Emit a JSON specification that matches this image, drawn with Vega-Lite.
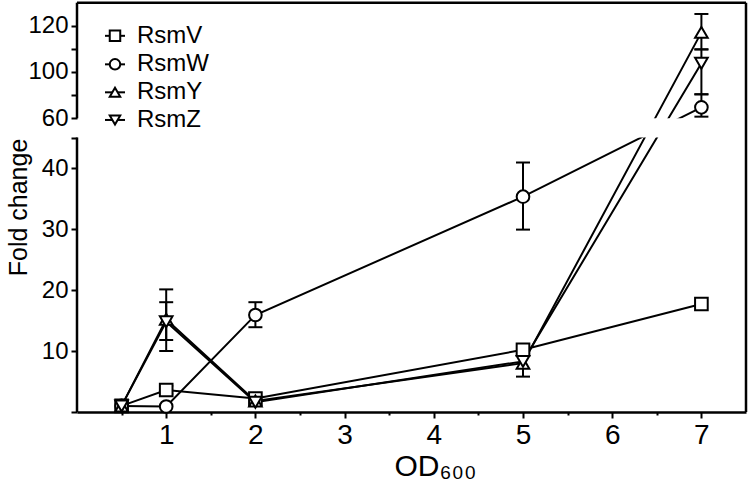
{
  "$schema": "https://vega.github.io/schema/vega-lite/v6.json",
  "width": 669,
  "height": 410,
  "autosize": {"type": "none"},
  "padding": {"left": 77, "top": 2, "right": 4, "bottom": 75},
  "background": "white",
  "config": {
    "view": {"stroke": null},
    "font": "Liberation Sans",
    "axis": {
      "labelColor": "black",
      "titleColor": "black",
      "domainColor": "black",
      "tickColor": "black",
      "labelFont": "Liberation Sans",
      "titleFont": "Liberation Sans",
      "titleFontWeight": "normal",
      "grid": false
    }
  },
  "datasets": {
    "series": [
      {"series": "RsmV", "od": 0.5, "fold": 1.0},
      {"series": "RsmV", "od": 1, "fold": 3.6},
      {"series": "RsmV", "od": 2, "fold": 2.2},
      {"series": "RsmV", "od": 5, "fold": 10.2},
      {"series": "RsmV", "od": 7, "fold": 17.7},
      {"series": "RsmW", "od": 0.5, "fold": 1.0},
      {"series": "RsmW", "od": 1, "fold": 0.9},
      {"series": "RsmW", "od": 2, "fold": 15.9},
      {"series": "RsmW", "od": 5, "fold": 35.3},
      {"series": "RsmW", "od": 7, "fold": 69.4},
      {"series": "RsmY", "od": 0.5, "fold": 1.0},
      {"series": "RsmY", "od": 1, "fold": 15.2},
      {"series": "RsmY", "od": 2, "fold": 1.8},
      {"series": "RsmY", "od": 5, "fold": 8.0},
      {"series": "RsmY", "od": 7, "fold": 117.1},
      {"series": "RsmZ", "od": 0.5, "fold": 1.0},
      {"series": "RsmZ", "od": 1, "fold": 14.8},
      {"series": "RsmZ", "od": 2, "fold": 1.6},
      {"series": "RsmZ", "od": 5, "fold": 8.3},
      {"series": "RsmZ", "od": 7, "fold": 103.7}
    ],
    "errors": [
      {"series": "RsmV", "od": 1, "lo": 3.0, "hi": 4.3},
      {"series": "RsmW", "od": 2, "lo": 13.9, "hi": 18.0},
      {"series": "RsmW", "od": 5, "lo": 29.9, "hi": 40.9},
      {"series": "RsmW", "od": 7, "lo": 61.4, "hi": 80.6},
      {"series": "RsmY", "od": 1, "lo": 10.0, "hi": 20.1},
      {"series": "RsmY", "od": 5, "lo": 5.8, "hi": 10.2},
      {"series": "RsmY", "od": 7, "lo": 109.7, "hi": 125.1},
      {"series": "RsmZ", "od": 1, "lo": 11.8, "hi": 18.0},
      {"series": "RsmZ", "od": 7, "lo": 80.6, "hi": 109.7}
    ],
    "frame": [
      {"x": 0, "x2": 0, "y": 0, "y2": 45},
      {"x": 0, "x2": 0, "y": 60, "y2": 130},
      {"x": 0, "x2": 7.5, "y": 130, "y2": 130},
      {"x": 7.5, "x2": 7.5, "y": 0, "y2": 130}
    ],
    "gap": [
      {"x": 0.02, "x2": 7.45, "y": 45, "y2": 60}
    ],
    "legend": [
      {"series": "RsmV", "lx": 0.426, "ly": 115.6},
      {"series": "RsmW", "lx": 0.426, "ly": 103.2},
      {"series": "RsmY", "lx": 0.426, "ly": 82.3},
      {"series": "RsmZ", "lx": 0.426, "ly": 58.7}
    ]
  },
  "layer": [
    {
      "data": {"name": "series"},
      "mark": {"type": "line", "color": "black", "strokeWidth": 2, "clip": true},
      "encoding": {
        "x": {
          "field": "od",
          "type": "quantitative",
          "scale": {"domain": [0, 7.5], "nice": false, "zero": false},
          "axis": {
            "title": "OD₆₀₀",
            "values": [0.5, 1, 1.5, 2, 2.5, 3, 3.5, 4, 4.5, 5, 5.5, 6, 6.5, 7],
            "labelExpr": "datum.value % 1 == 0 ? format(datum.value, 'd') : ''",
            "tickSize": {"condition": {"test": "datum.value % 1 == 0", "value": 6}, "value": 3},
            "tickWidth": 2,
            "domainWidth": 2.5,
            "labelFontSize": 28,
            "labelPadding": 3,
            "labelFlush": false,
            "labelOverlap": false,
            "titleFontSize": 30,
            "titleX": 358,
            "titleY": 63,
            "titleBaseline": "alphabetic",
            "titleAlign": "center"
          }
        },
        "y": {
          "field": "fold",
          "type": "quantitative",
          "scale": {
            "type": "linear",
            "domain": [0, 45, 60, 100, 120, 130],
            "range": [410, 135.5, 116.3, 69.7, 23.7, 0.7],
            "nice": false,
            "zero": false
          },
          "axis": {
            "title": "Fold change",
            "values": [0, 10, 20, 30, 40, 45, 60, 80, 100, 110, 120],
            "labelExpr": "indexof([10, 20, 30, 40, 60, 100, 120], datum.value) >= 0 ? format(datum.value, 'd') : ''",
            "domain": false,
            "tickSize": 6,
            "tickWidth": 2,
            "labelFontSize": 24,
            "labelPadding": 3,
            "labelBaseline": "middle",
            "labelOverlap": false,
            "labelFlush": false,
            "titleFontSize": 25,
            "titleX": -51,
            "titleY": 205,
            "titleAngle": -90,
            "titleAlign": "center",
            "titleBaseline": "alphabetic"
          }
        },
        "detail": {"field": "series"}
      }
    },
    {
      "data": {"name": "gap"},
      "mark": {"type": "rect", "fill": "white", "stroke": null},
      "encoding": {
        "x": {"field": "x", "type": "quantitative"},
        "x2": {"field": "x2"},
        "y": {"field": "y", "type": "quantitative"},
        "y2": {"field": "y2"}
      }
    },
    {
      "data": {"name": "errors"},
      "mark": {"type": "rule", "color": "black", "strokeWidth": 2},
      "encoding": {
        "x": {"field": "od", "type": "quantitative"},
        "y": {"field": "lo", "type": "quantitative"},
        "y2": {"field": "hi"}
      }
    },
    {
      "data": {"name": "errors"},
      "mark": {"type": "tick", "orient": "horizontal", "color": "black", "size": 14, "thickness": 2, "opacity": 1},
      "encoding": {
        "x": {"field": "od", "type": "quantitative"},
        "y": {"field": "lo", "type": "quantitative"}
      }
    },
    {
      "data": {"name": "errors"},
      "mark": {"type": "tick", "orient": "horizontal", "color": "black", "size": 14, "thickness": 2, "opacity": 1},
      "encoding": {
        "x": {"field": "od", "type": "quantitative"},
        "y": {"field": "hi", "type": "quantitative"}
      }
    },
    {
      "data": {"name": "series"},
      "mark": {"type": "point", "filled": true, "fill": "white", "stroke": "black", "strokeWidth": 2, "size": 160, "opacity": 1},
      "encoding": {
        "x": {"field": "od", "type": "quantitative"},
        "y": {"field": "fold", "type": "quantitative"},
        "shape": {
          "field": "series",
          "type": "nominal",
          "scale": {
            "domain": ["RsmV", "RsmW", "RsmY", "RsmZ"],
            "range": ["square", "circle", "triangle-up", "triangle-down"]
          },
          "legend": null
        }
      }
    },
    {
      "data": {"name": "legend"},
      "mark": {"type": "tick", "orient": "horizontal", "color": "black", "size": 20, "thickness": 2, "opacity": 1},
      "encoding": {
        "x": {"field": "lx", "type": "quantitative"},
        "y": {"field": "ly", "type": "quantitative"}
      }
    },
    {
      "data": {"name": "legend"},
      "mark": {"type": "point", "filled": true, "fill": "white", "stroke": "black", "strokeWidth": 2, "size": 110, "opacity": 1},
      "encoding": {
        "x": {"field": "lx", "type": "quantitative"},
        "y": {"field": "ly", "type": "quantitative"},
        "shape": {"field": "series", "type": "nominal", "legend": null}
      }
    },
    {
      "data": {"name": "legend"},
      "mark": {"type": "text", "align": "left", "baseline": "middle", "dx": 22, "fontSize": 24, "font": "Liberation Sans", "color": "black"},
      "encoding": {
        "x": {"field": "lx", "type": "quantitative"},
        "y": {"field": "ly", "type": "quantitative"},
        "text": {"field": "series"}
      }
    },
    {
      "data": {"name": "frame"},
      "mark": {"type": "rule", "color": "black", "strokeWidth": 2.5},
      "encoding": {
        "x": {"field": "x", "type": "quantitative"},
        "x2": {"field": "x2"},
        "y": {"field": "y", "type": "quantitative"},
        "y2": {"field": "y2"}
      }
    }
  ]
}
